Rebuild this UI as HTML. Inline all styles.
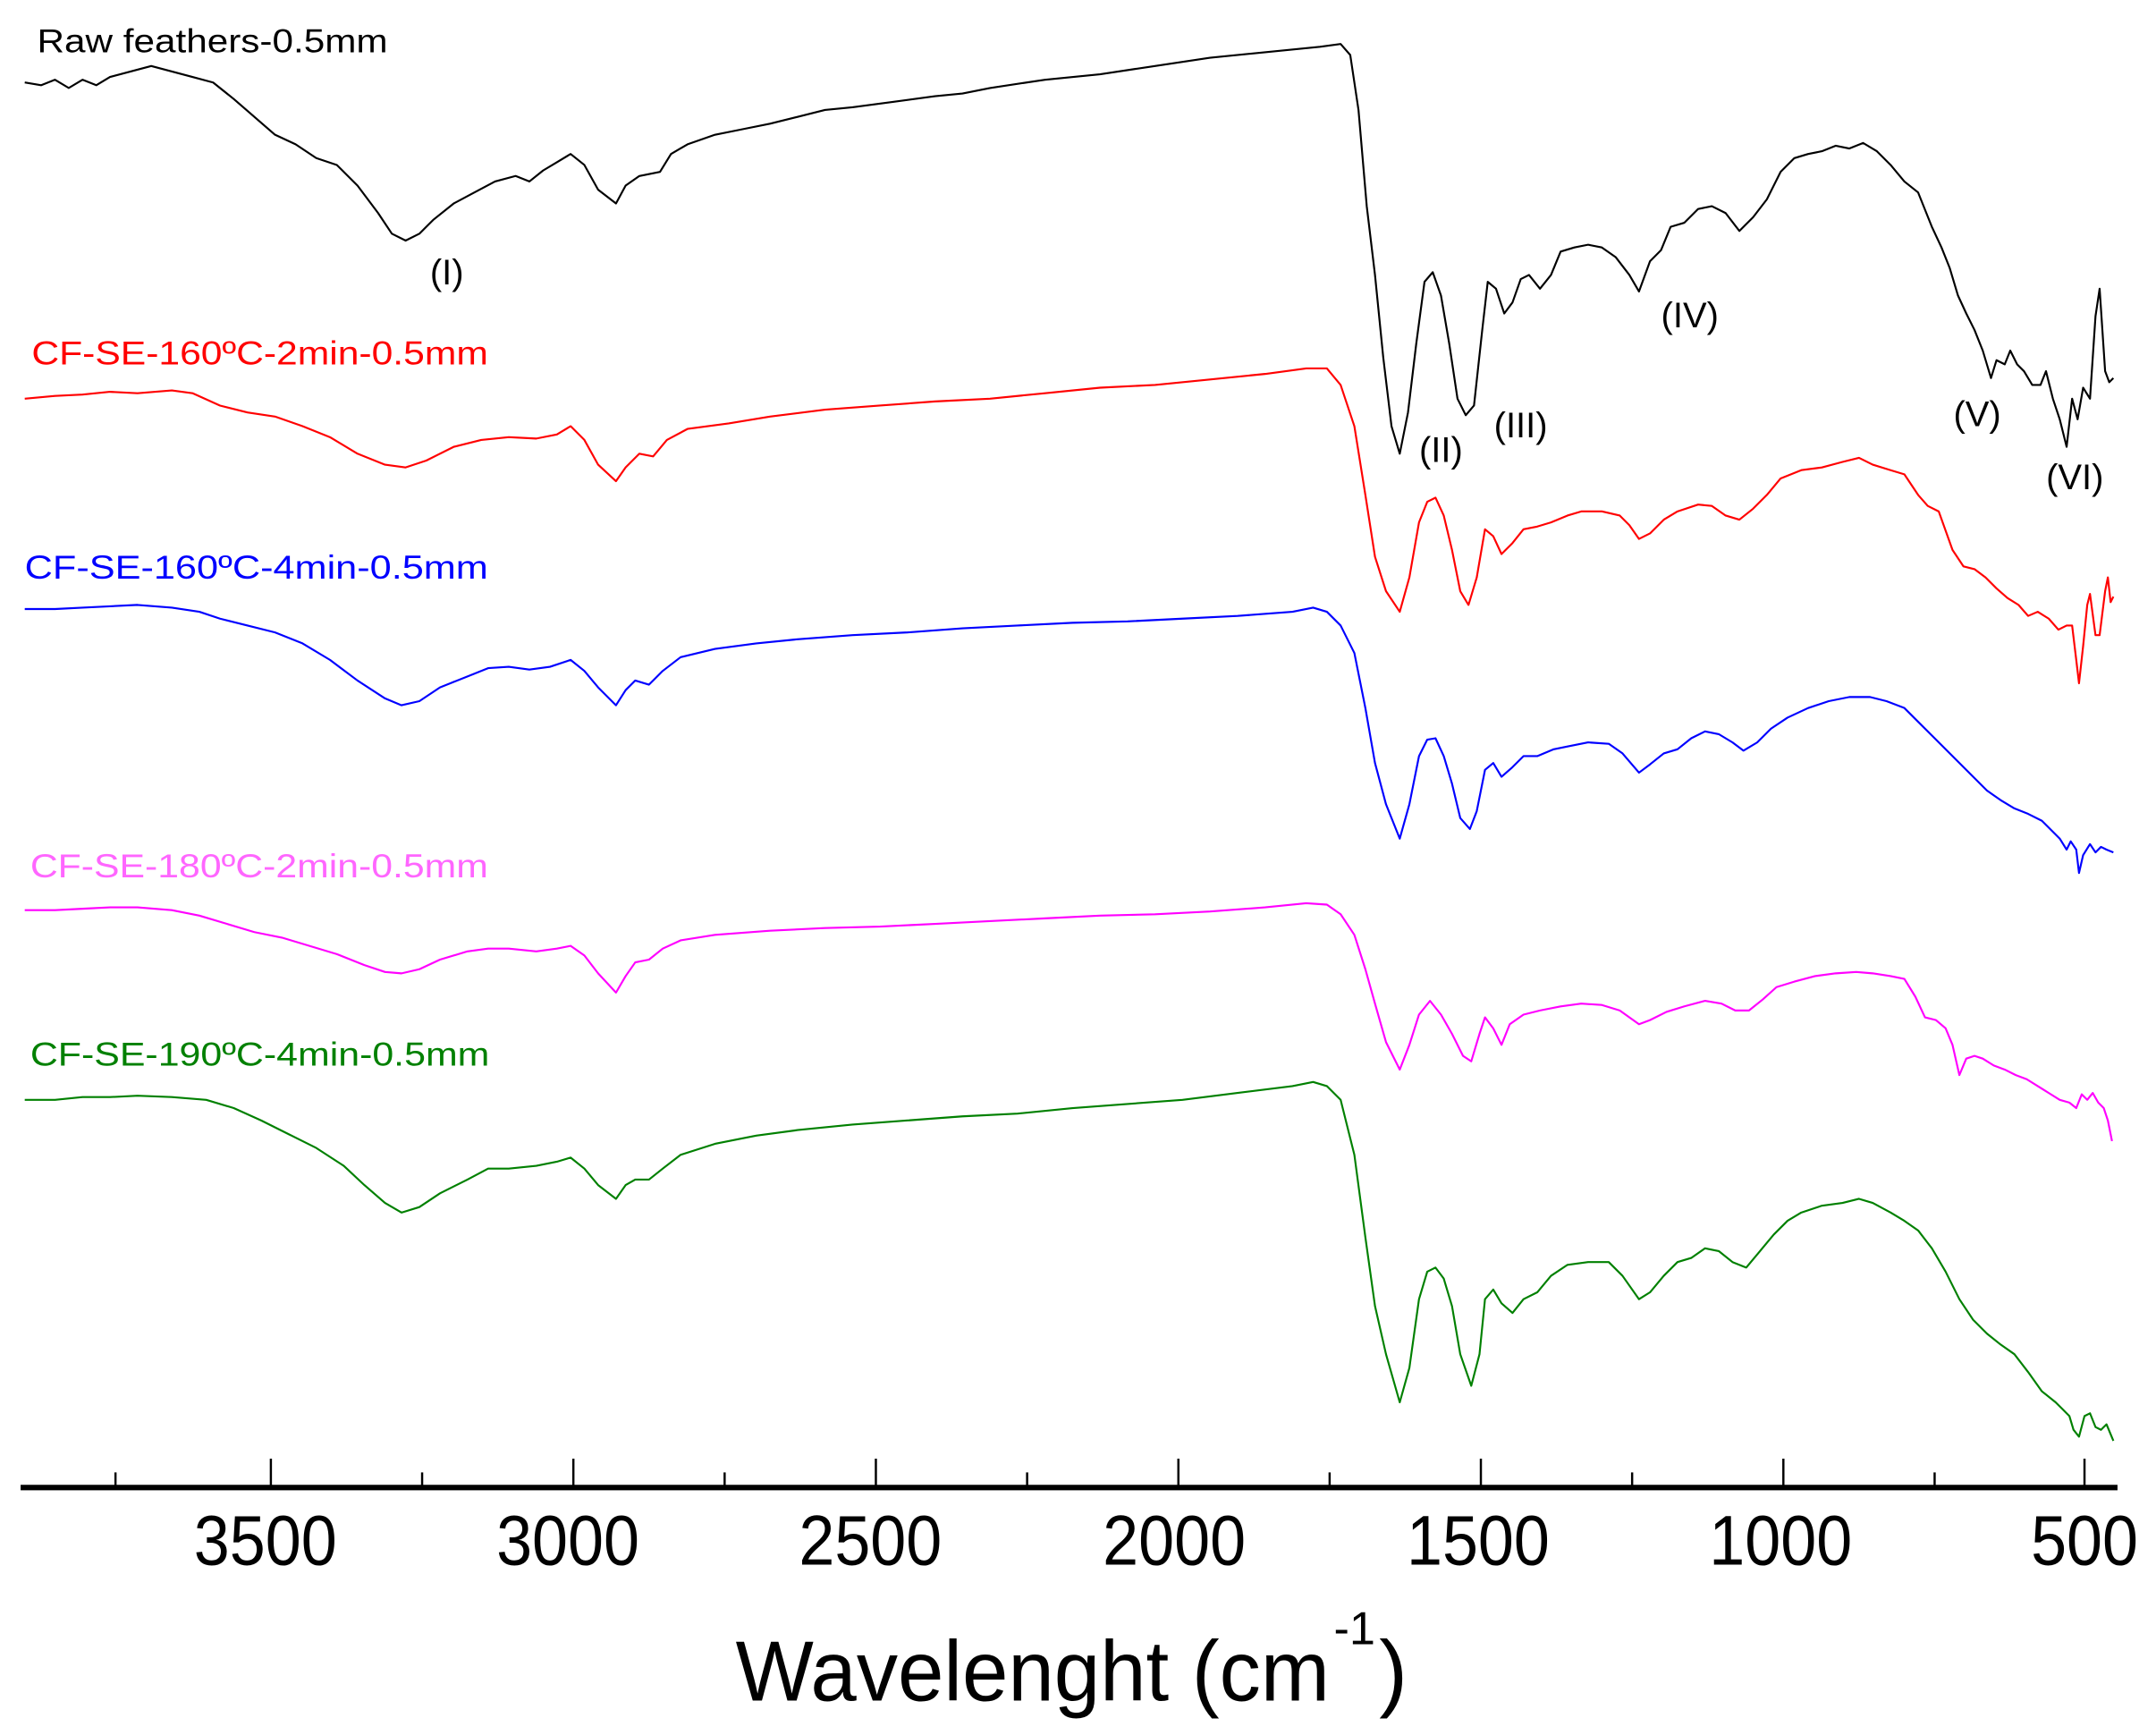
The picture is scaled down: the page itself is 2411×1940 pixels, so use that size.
<!DOCTYPE html>
<html><head><meta charset="utf-8"><style>
html,body{margin:0;padding:0;background:#fff;}
svg{display:block;}
text{font-family:"Liberation Sans",Arial,sans-serif;}
</style></head><body>
<svg width="2411" height="1940" viewBox="0 0 1568 1262" preserveAspectRatio="none" xmlns="http://www.w3.org/2000/svg">
<rect width="1568" height="1262" fill="#fff"/>
<g fill="none" stroke-width="1.4" stroke-linejoin="round">
<polyline stroke="#000" points="18,60 30,62 40,58 50,64 60,58 70,62 80,56 95,52 110,48 125,52 140,56 155,60 170,72 185,85 200,98 215,105 230,115 245,120 260,135 275,155 285,170 295,175 305,170 315,160 330,148 345,140 360,132 375,128 385,132 395,124 405,118 415,112 425,120 435,138 448,148 455,135 465,128 480,125 488,112 500,105 520,98 540,94 560,90 580,85 600,80 620,78 650,74 680,70 700,68 720,64 760,58 800,54 840,48 880,42 920,38 960,34 975,32 982,40 988,80 994,150 1000,200 1006,260 1012,310 1018,330 1024,300 1030,250 1036,205 1042,198 1048,215 1054,250 1060,290 1066,302 1072,295 1078,240 1082,205 1088,210 1094,228 1100,220 1106,203 1112,200 1120,210 1128,200 1135,183 1145,180 1155,178 1165,180 1175,187 1185,200 1192,212 1200,190 1208,182 1215,165 1225,162 1235,152 1245,150 1255,155 1265,168 1275,158 1285,145 1295,125 1305,115 1315,112 1325,110 1335,106 1345,108 1355,104 1365,110 1375,120 1385,132 1395,140 1405,165 1412,180 1418,195 1424,215 1430,228 1436,240 1442,255 1448,275 1452,262 1458,265 1462,255 1467,265 1472,270 1478,280 1484,280 1488,270 1493,290 1498,305 1503,325 1507,290 1511,305 1515,282 1520,290 1524,230 1527,210 1531,270 1534,278 1537,275"/>
<polyline stroke="#ff0000" points="18,290 40,288 60,287 80,285 100,286 125,284 140,286 160,295 180,300 200,303 220,310 240,318 260,330 280,338 295,340 310,335 330,325 350,320 370,318 390,319 405,316 415,310 425,320 435,338 448,350 455,340 465,330 475,332 485,320 500,312 530,308 560,303 600,298 640,295 680,292 720,290 760,286 800,282 840,280 880,276 920,272 950,268 965,268 975,280 985,310 993,360 1000,405 1008,430 1018,445 1025,420 1032,380 1038,365 1044,362 1050,375 1056,400 1062,430 1068,440 1074,420 1080,385 1086,390 1092,403 1100,395 1108,385 1118,383 1128,380 1140,375 1150,372 1165,372 1178,375 1185,382 1192,392 1200,388 1210,378 1220,372 1235,367 1245,368 1255,375 1265,378 1275,370 1285,360 1295,348 1310,342 1325,340 1340,336 1352,333 1362,338 1375,342 1385,345 1395,360 1402,368 1410,372 1420,400 1428,412 1436,414 1444,420 1452,428 1460,435 1468,440 1475,448 1482,445 1490,450 1497,458 1503,455 1507,455 1510,480 1512,497 1515,470 1518,440 1520,432 1524,462 1527,462 1531,430 1533,420 1535,438 1537,434"/>
<polyline stroke="#0000ff" points="18,443 40,443 60,442 80,441 100,440 125,442 145,445 160,450 180,455 200,460 220,468 240,480 260,495 280,508 292,513 305,510 320,500 340,492 355,486 370,485 385,487 400,485 415,480 425,488 435,500 448,513 455,502 462,495 472,498 482,488 495,478 520,472 550,468 580,465 620,462 660,460 700,457 740,455 780,453 820,452 860,450 900,448 940,445 955,442 965,445 975,455 985,475 993,515 1000,555 1008,585 1018,610 1025,585 1032,550 1038,538 1044,537 1050,550 1056,570 1062,595 1069,603 1074,590 1080,560 1086,555 1092,565 1100,558 1108,550 1118,550 1130,545 1140,543 1155,540 1170,541 1180,548 1192,562 1200,556 1210,548 1220,545 1230,537 1240,532 1250,534 1260,540 1268,546 1278,540 1288,530 1300,522 1315,515 1330,510 1345,507 1360,507 1372,510 1385,515 1395,525 1405,535 1415,545 1425,555 1435,565 1445,575 1455,582 1465,588 1475,592 1485,597 1492,604 1498,610 1503,618 1506,612 1510,618 1512,635 1515,622 1520,614 1524,620 1528,616 1532,618 1537,620"/>
<polyline stroke="#ff00ff" points="18,662 40,662 60,661 80,660 100,660 125,662 145,666 165,672 185,678 205,682 225,688 245,694 265,702 280,707 292,708 305,705 320,698 340,692 355,690 370,690 390,692 405,690 415,688 425,695 435,708 448,722 455,710 462,700 472,698 482,690 495,684 520,680 560,677 600,675 640,674 680,672 720,670 760,668 800,666 840,665 880,663 920,660 950,657 965,658 975,665 985,680 993,705 1000,730 1008,758 1018,778 1025,760 1032,738 1040,728 1048,738 1056,752 1064,768 1070,772 1076,752 1080,740 1086,748 1092,760 1098,745 1108,738 1120,735 1135,732 1150,730 1165,731 1178,735 1192,745 1200,742 1212,736 1225,732 1240,728 1252,730 1262,735 1272,735 1282,727 1292,718 1305,714 1320,710 1335,708 1350,707 1362,708 1375,710 1385,712 1393,725 1400,740 1408,742 1415,748 1420,760 1425,782 1430,770 1436,768 1442,770 1450,775 1458,778 1466,782 1474,785 1482,790 1490,795 1498,800 1505,802 1510,806 1514,796 1518,800 1522,795 1526,802 1530,806 1533,815 1536,830"/>
<polyline stroke="#008000" points="18,800 40,800 60,798 80,798 100,797 125,798 150,800 170,806 190,815 210,825 230,835 250,848 265,862 280,875 292,882 305,878 320,868 340,858 355,850 370,850 390,848 405,845 415,842 425,850 435,862 448,872 455,862 462,858 472,858 482,850 495,840 520,832 550,826 580,822 620,818 660,815 700,812 740,810 780,806 820,803 860,800 900,795 940,790 955,787 965,790 975,800 985,840 993,900 1000,950 1008,985 1018,1020 1025,995 1032,945 1038,925 1044,922 1050,930 1056,950 1062,985 1070,1008 1076,985 1080,945 1086,938 1092,948 1100,955 1108,945 1118,940 1128,928 1140,920 1155,918 1170,918 1180,928 1192,945 1200,940 1210,928 1220,918 1230,915 1240,908 1250,910 1260,918 1270,922 1280,910 1290,898 1300,888 1310,882 1325,877 1340,875 1352,872 1362,875 1375,882 1385,888 1395,895 1405,908 1415,925 1425,945 1435,960 1445,970 1455,978 1465,985 1475,998 1485,1012 1495,1020 1500,1025 1505,1030 1508,1040 1512,1045 1516,1030 1520,1028 1524,1038 1528,1040 1532,1036 1537,1048"/>
</g>
<g stroke="#000">
<line x1="15" y1="1082" x2="1540" y2="1082" stroke-width="4"/>
<g stroke-width="1.6">
<line x1="197" y1="1082" x2="197" y2="1061"/><line x1="417" y1="1082" x2="417" y2="1061"/><line x1="637" y1="1082" x2="637" y2="1061"/><line x1="857" y1="1082" x2="857" y2="1061"/><line x1="1077" y1="1082" x2="1077" y2="1061"/><line x1="1297" y1="1082" x2="1297" y2="1061"/><line x1="1516" y1="1082" x2="1516" y2="1061"/>
<line x1="84" y1="1082" x2="84" y2="1071"/><line x1="307" y1="1082" x2="307" y2="1071"/><line x1="527" y1="1082" x2="527" y2="1071"/><line x1="747" y1="1082" x2="747" y2="1071"/><line x1="967" y1="1082" x2="967" y2="1071"/><line x1="1187" y1="1082" x2="1187" y2="1071"/><line x1="1407" y1="1082" x2="1407" y2="1071"/>
</g></g>
<g font-size="51" text-anchor="middle" fill="#000">
<text x="193" y="1138" textLength="104" lengthAdjust="spacingAndGlyphs">3500</text>
<text x="413" y="1138" textLength="104" lengthAdjust="spacingAndGlyphs">3000</text>
<text x="633" y="1138" textLength="104" lengthAdjust="spacingAndGlyphs">2500</text>
<text x="854" y="1138" textLength="104" lengthAdjust="spacingAndGlyphs">2000</text>
<text x="1075" y="1138" textLength="104" lengthAdjust="spacingAndGlyphs">1500</text>
<text x="1295" y="1138" textLength="104" lengthAdjust="spacingAndGlyphs">1000</text>
<text x="1516" y="1138" textLength="78" lengthAdjust="spacingAndGlyphs">500</text>
</g>
<text x="535" y="1237" font-size="62" textLength="432" lengthAdjust="spacingAndGlyphs">Wavelenght (cm</text>
<text x="970" y="1196" font-size="34">-1</text>
<text x="1003" y="1237" font-size="62">)</text>
<g font-size="24">
<text x="27" y="38" fill="#000" textLength="255" lengthAdjust="spacingAndGlyphs">Raw feathers-0.5mm</text>
<text x="23" y="265" fill="#ff0000" textLength="332" lengthAdjust="spacingAndGlyphs">CF-SE-160ºC-2min-0.5mm</text>
<text x="18" y="421" fill="#0000ff" textLength="337" lengthAdjust="spacingAndGlyphs">CF-SE-160ºC-4min-0.5mm</text>
<text x="22" y="638" fill="#ff66ff" textLength="333" lengthAdjust="spacingAndGlyphs">CF-SE-180ºC-2min-0.5mm</text>
<text x="22" y="775" fill="#008000" textLength="334" lengthAdjust="spacingAndGlyphs">CF-SE-190ºC-4min-0.5mm</text>
</g>
<g font-size="26" fill="#000" text-anchor="middle">
<text x="325" y="207">(I)</text>
<text x="1048" y="336">(II)</text>
<text x="1106" y="318">(III)</text>
<text x="1229" y="238">(IV)</text>
<text x="1438" y="310">(V)</text>
<text x="1509" y="356">(VI)</text>
</g>
</svg>
</body></html>
